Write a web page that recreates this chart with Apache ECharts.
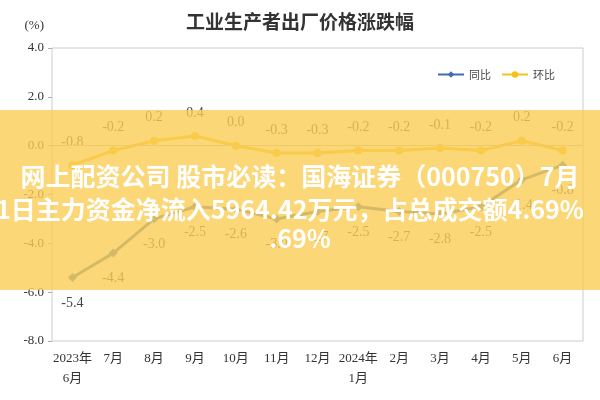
<!DOCTYPE html>
<html><head><meta charset="utf-8">
<script src="https://cdn.jsdelivr.net/npm/echarts@6/dist/echarts.min.js"></script>
<style>html,body{margin:0;padding:0;background:#fff}#c{width:600px;height:400px}</style>
</head><body><div id="c"></div>
<script>
const categories = ['2023年\n6月','7月','8月','9月','10月','11月','12月','2024年\n1月','2月','3月','4月','5月','6月'];
const yoy = [-5.4,-4.4,-3.0,-2.5,-2.6,-3.0,-2.7,-2.5,-2.7,-2.8,-2.5,-1.4,-0.8];
const mom = [-0.8,-0.2,0.2,0.4,0.0,-0.3,-0.3,-0.2,-0.2,-0.1,-0.2,0.2,-0.2];
const yTicks = [-8,-6,-4,-2,0,2,4];
const serif = '"Liberation Serif","Noto Sans CJK SC",serif';
const chart = echarts.init(document.getElementById('c'));
chart.setOption({
  animation:false,
  title:{text:'工业生产者出厂价格涨跌幅',left:'center',top:7,textStyle:{fontFamily:'"Noto Sans CJK SC"',fontSize:19,fontWeight:'bold',color:'#333'}},
  legend:{right:40,top:64,itemWidth:26,itemHeight:8,itemGap:10,textStyle:{fontFamily:'"Noto Sans CJK SC"',fontSize:11,color:'#444'},data:['同比','环比']},
  grid:{left:52,right:17,top:48,bottom:59,show:true,borderColor:'#ccc',borderWidth:1},
  xAxis:{type:'category',data:categories,boundaryGap:true,axisLine:{show:false},axisTick:{show:false},
    axisLabel:{interval:0,fontFamily:serif,fontSize:13,color:'#333',margin:8,lineHeight:20}},
  yAxis:{type:'value',min:-8,max:4,interval:2,name:'(%)',nameLocation:'end',nameGap:16,
    nameTextStyle:{fontFamily:serif,fontSize:13,color:'#333',align:'right',padding:[0,8,0,0]},
    splitLine:{show:false},axisLine:{show:false},axisTick:{show:true,length:4,lineStyle:{color:'#aaa'}},
    axisLabel:{fontFamily:serif,fontSize:13,color:'#333',formatter:v=>yTicks.includes(v)?v.toFixed(1):''}},
  series:[
    {name:'同比',type:'line',data:yoy,symbol:'diamond',symbolSize:9,color:'#3f6db0',lineStyle:{width:3},
     label:{show:true,position:'bottom',distance:14,fontFamily:serif,fontSize:14,color:'#444',formatter:p=>p.value.toFixed(1)},
     markLine:{silent:true,symbol:'none',label:{show:false},lineStyle:{color:'#bbb',type:'solid',width:1},data:[{yAxis:0}]}},
    {name:'环比',type:'line',data:mom,symbol:'circle',symbolSize:8,color:'#f5c21a',lineStyle:{width:3},
     label:{show:true,position:'top',distance:12,fontFamily:serif,fontSize:14,color:'#444',formatter:p=>p.value.toFixed(1)}}
  ],
  graphic:[
    {type:'rect',left:0,top:110,shape:{width:600,height:180},style:{fill:'rgba(250,205,85,0.8)'},z:100},
    {type:'text',left:'center',top:164,style:{text:'网上配资公司 股市必读：国海证券（000750）7月',fill:'#fff',font:'bold 25px "Noto Sans CJK SC"'},z:101},
    {type:'text',left:-4,top:197,style:{text:'1日主力资金净流入5964.42万元，占总成交额4.69%',fill:'#fff',font:'bold 25px "Noto Sans CJK SC"'},z:101},
    {type:'text',left:'center',top:226,style:{text:'.69%',fill:'#fff',font:'bold 25px "Noto Sans CJK SC"'},z:101}
  ]
});
</script></body></html>
